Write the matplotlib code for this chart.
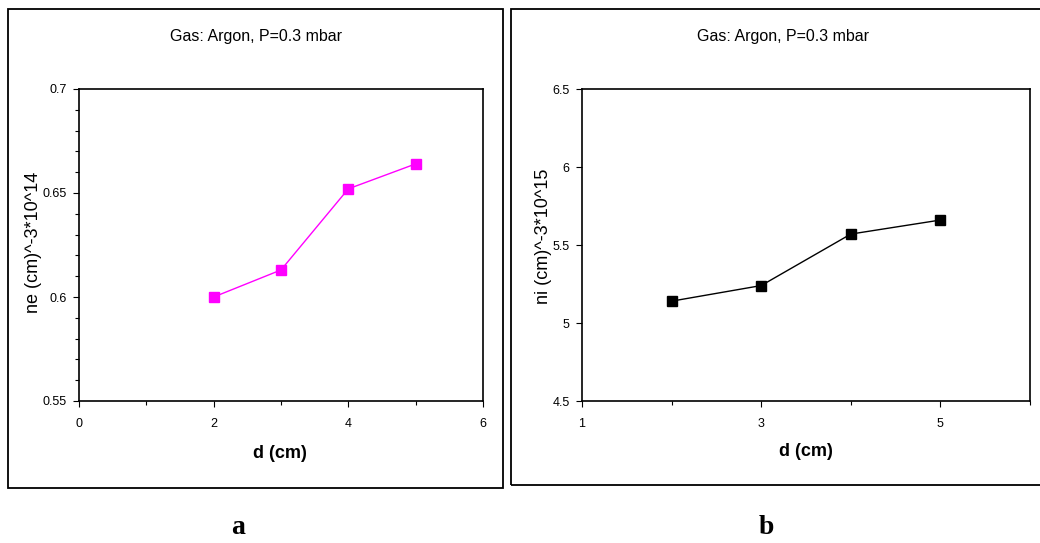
import matplotlib
matplotlib.use("Agg")
import matplotlib.pyplot as plt
from matplotlib.patches import Rectangle
from matplotlib.ticker import MultipleLocator, FixedLocator

plt.rcParams['font.family'] = ['Liberation Sans', 'DejaVu Sans']

d_values = [2, 3, 4, 5]
ne_values = [0.600, 0.613, 0.652, 0.664]
ni_values = [5.14, 5.24, 5.57, 5.66]
title_text = "Gas: Argon, P=0.3 mbar"
xlabel_text = "d (cm)"
ylabel_a = "ne (cm)^-3*10^14"
ylabel_b = "ni (cm)^-3*10^15"

W, H = 1040, 543
fig = plt.figure(figsize=(W / 100, H / 100), dpi=100)

def fx(px):
    return px / W

def fy(py):
    return 1 - py / H

# outer frames
fig.patches.append(Rectangle((fx(8), fy(488)), fx(495), 479 / H, transform=fig.transFigure,
                             fill=False, edgecolor='black', linewidth=1.3))
fig.patches.append(Rectangle((fx(511), fy(485)), fx(540), 476 / H, transform=fig.transFigure,
                             fill=False, edgecolor='black', linewidth=1.3))

# panel a
ax1 = fig.add_axes([fx(79), fy(401), fx(483 - 79), (401 - 89) / H])
ax1.plot(d_values, ne_values, color='#FF00FF', marker='s', markersize=6.5, linewidth=1.0)
ax1.set_xlim(0, 6)
ax1.set_ylim(0.55, 0.70)
ax1.xaxis.set_major_locator(FixedLocator([0, 2, 4, 6]))
ax1.xaxis.set_minor_locator(FixedLocator([1, 3, 5]))
ax1.yaxis.set_major_locator(FixedLocator([0.55, 0.6, 0.65, 0.7]))
ax1.yaxis.set_minor_locator(MultipleLocator(0.01))
ax1.set_yticklabels(['0.55', '0.6', '0.65', '0.7'])

# panel b
ax2 = fig.add_axes([fx(582), fy(401), fx(1030 - 582), (401 - 89) / H])
ax2.plot(d_values, ni_values, color='black', marker='s', markersize=6.5, linewidth=1.0)
ax2.set_xlim(1, 6)
ax2.set_ylim(4.5, 6.5)
ax2.xaxis.set_major_locator(FixedLocator([1, 3, 5]))
ax2.xaxis.set_minor_locator(FixedLocator([2, 4, 6]))
ax2.yaxis.set_major_locator(FixedLocator([4.5, 5, 5.5, 6, 6.5]))
ax2.set_yticklabels(['4.5', '5', '5.5', '6', '6.5'])

for ax in (ax1, ax2):
    for s in ax.spines.values():
        s.set_linewidth(1.2)
    ax.tick_params(which='major', direction='out', length=4, width=0.8, labelsize=9, pad=5)
    ax.tick_params(which='minor', direction='out', length=3, width=0.8)
    ax.tick_params(axis='x', pad=8)

# titles, labels
fig.text(fx(256), fy(37), title_text, ha='center', va='center', fontsize=11.5)
fig.text(fx(783), fy(37), title_text, ha='center', va='center', fontsize=11.5)
fig.text(fx(280), fy(453), xlabel_text, ha='center', va='center', fontsize=13, fontweight='bold')
fig.text(fx(806), fy(452), xlabel_text, ha='center', va='center', fontsize=13, fontweight='bold')
fig.text(fx(34), fy(242), ylabel_a, ha='center', va='center', fontsize=13, rotation=90)
fig.text(fx(544), fy(236), ylabel_b, ha='center', va='center', fontsize=13, rotation=90)

fig.text(fx(238), fy(527), 'a', ha='center', va='center', fontsize=20, fontweight='bold',
         family=['Liberation Serif', 'DejaVu Serif'])
fig.text(fx(766), fy(527), 'b', ha='center', va='center', fontsize=20, fontweight='bold',
         family=['Liberation Serif', 'DejaVu Serif'])

fig.savefig('out.png', dpi=100)
